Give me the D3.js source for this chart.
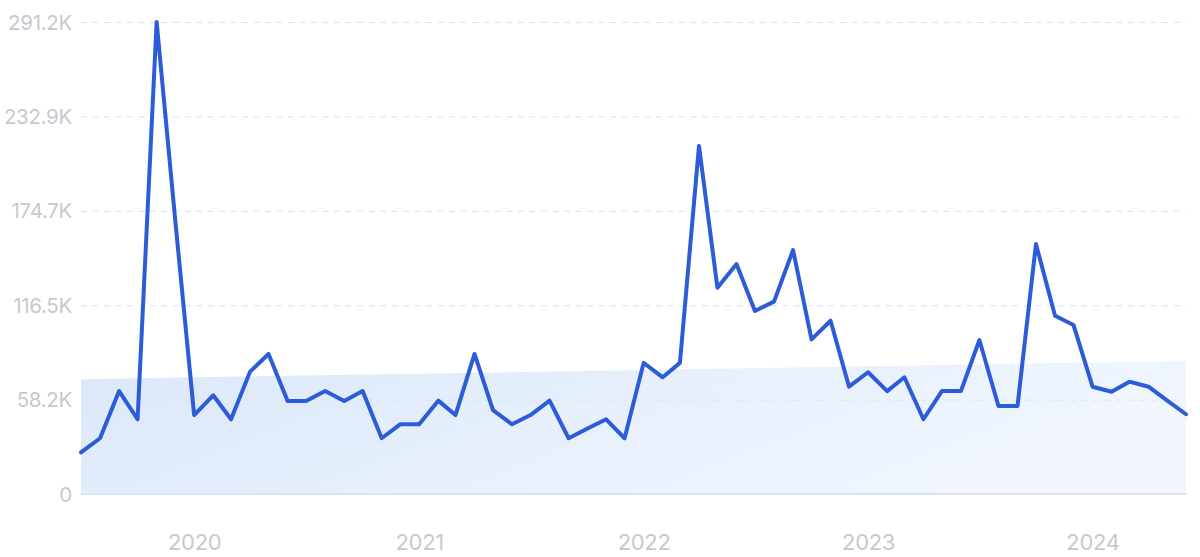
<!DOCTYPE html>
<html>
<head>
<meta charset="utf-8">
<script src="https://cdn.jsdelivr.net/npm/d3@7"></script>
<style>
  html, body { margin: 0; padding: 0; background: #ffffff; }
  svg { display: block; }
  .tick text { font-family: Inter, "Noto Sans", sans-serif; fill: #c7c9ce; }
</style>
</head>
<body>
<svg id="chart" width="1200" height="557"></svg>
<script>
// ---- data ----
const startMonth = "2019-07-01";
const values = [
  25.7, 34.4, 63.5, 46.1, 291.2, 170.0,
  48.7, 60.9, 46.1, 75.5, 86.4, 57.4, 57.4, 63.5, 57.4, 63.5, 34.4, 43.0,
  43.0, 57.6, 48.7, 86.4, 51.8, 43.0, 48.7, 57.6, 34.4, 40.3, 46.1, 34.4,
  80.9, 72.0, 80.9, 214.7, 127.3, 141.9, 112.9, 118.7, 150.5, 95.4, 106.9, 66.2,
  75.1, 63.5, 72.0, 46.1, 63.5, 63.5, 95.0, 54.3, 54.3, 154.2, 110.0, 104.3,
  66.2, 63.1, 69.3, 66.2, 57.7, 49.2
].map(v => v * 1000);
const trendValues = [70800, 82100];           // trend band at first and last month
const yTickValues = [0, 58240, 116480, 174720, 232960, 291200];
const yTickLabels = ["0", "58.2K", "116.5K", "174.7K", "232.9K", "291.2K"];
const xTickYears = [2020, 2021, 2022, 2023, 2024];

// ---- build ----
const parse = d3.timeParse("%Y-%m-%d");
const d0 = parse(startMonth);
const data = values.map((v, i) => ({ date: d3.timeMonth.offset(d0, i), value: v }));

const svg = d3.select("#chart");
const mLeft = 81, mRight = 1186, mTop = 22, mBottom = 494;

const x = d3.scaleTime()
  .domain(d3.extent(data, d => d.date))
  .range([mLeft, mRight]);
const y = d3.scaleLinear()
  .domain([0, 291200])
  .range([mBottom, mTop]);

// gradient
const defs = svg.append("defs");
const grad = defs.append("linearGradient")
  .attr("id", "trendGrad")
  .attr("x1", "0%").attr("y1", "0%").attr("x2", "100%").attr("y2", "30%");
grad.append("stop").attr("offset", "0%").attr("stop-color", "#dbe8f9");
grad.append("stop").attr("offset", "100%").attr("stop-color", "#f1f6fe");

// trend area
const trendData = [
  { date: data[0].date, value: trendValues[0] },
  { date: data[data.length - 1].date, value: trendValues[1] }
];
svg.append("path")
  .datum(trendData)
  .attr("fill", "url(#trendGrad)")
  .attr("d", d3.area().x(d => x(d.date)).y0(y(0)).y1(d => y(d.value)));

// grid lines + y labels
const yAxis = d3.axisLeft(y)
  .tickValues(yTickValues)
  .tickFormat((d, i) => yTickLabels[i])
  .tickSize(0)
  .tickPadding(9);
const gy = svg.append("g")
  .attr("transform", `translate(${mLeft},0)`)
  .call(yAxis);
gy.select(".domain").remove();
gy.selectAll(".tick text").attr("font-size", 20.5).attr("dy", "0.35em").attr("letter-spacing", "-0.3");
gy.selectAll(".tick").filter(d => d !== 0).append("line")
  .attr("x1", 0).attr("x2", mRight - mLeft)
  .attr("stroke", "#d9e3f1")
  .attr("stroke-width", 1)
  .attr("stroke-dasharray", "6 5.5");

// baseline
svg.append("line")
  .attr("x1", mLeft).attr("x2", mRight)
  .attr("y1", y(0)).attr("y2", y(0))
  .attr("stroke", "#d7e4f5")
  .attr("stroke-width", 2);

// x axis
const xAxis = d3.axisBottom(x)
  .tickValues(xTickYears.map(yr => new Date(yr, 0, 1)))
  .tickFormat(d3.timeFormat("%Y"))
  .tickSize(0)
  .tickPadding(0);
const gx = svg.append("g")
  .attr("transform", `translate(0,${mBottom})`)
  .call(xAxis);
gx.select(".domain").remove();
gx.selectAll(".tick text").attr("font-size", 22).attr("y", 56).attr("dy", 0).attr("letter-spacing", "-0.3");

// line
svg.append("path")
  .datum(data)
  .attr("fill", "none")
  .attr("stroke", "#2c5cd7")
  .attr("stroke-width", 4)
  .attr("stroke-linejoin", "round")
  .attr("stroke-linecap", "round")
  .attr("d", d3.line().x(d => x(d.date)).y(d => y(d.value)));
</script>
</body>
</html>
